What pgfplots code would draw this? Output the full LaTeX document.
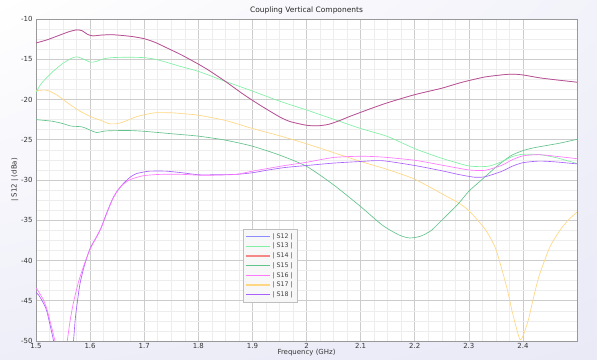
\documentclass[border=0pt]{standalone}
\usepackage{pgfplots}
\pgfplotsset{compat=1.18}
\usepackage{pgfplotstable}
\usetikzlibrary{shadings}
\usepackage{fontspec}
\setmainfont{DejaVu Sans}

\definecolor{lav}{RGB}{234,234,247}
\definecolor{cS12}{RGB}{140,140,255}
\definecolor{cS13}{RGB}{128,240,165}
\definecolor{cS14}{RGB}{245,135,135}
\definecolor{cS15}{RGB}{100,195,140}
\definecolor{cS16}{RGB}{255,120,255}
\definecolor{cS17}{RGB}{255,215,130}
\definecolor{cS18}{RGB}{170,95,255}
\definecolor{cTopR}{RGB}{210,75,115}
\definecolor{cTopB}{RGB}{110,90,235}

\pgfplotstableread{
f s
1.50 -12.98
1.52 -12.6
1.54 -12.1
1.56 -11.6
1.575 -11.35
1.585 -11.45
1.595 -11.9
1.605 -12.1
1.62 -12.0
1.64 -11.95
1.66 -12.05
1.68 -12.2
1.70 -12.45
1.72 -12.9
1.75 -13.85
1.77 -14.5
1.80 -15.6
1.82 -16.4
1.85 -17.75
1.88 -19.2
1.90 -20.1
1.92 -20.95
1.95 -22.15
1.97 -22.75
2.00 -23.2
2.02 -23.27
2.04 -23.1
2.06 -22.65
2.08 -22.1
2.10 -21.6
2.12 -21.1
2.15 -20.4
2.20 -19.4
2.25 -18.6
2.28 -18.0
2.30 -17.65
2.33 -17.2
2.36 -16.95
2.38 -16.85
2.40 -16.95
2.43 -17.3
2.46 -17.55
2.50 -17.85
}\tSfourteen

\pgfplotstableread{
f s
1.50 -19.1
1.51 -18.0
1.53 -16.6
1.55 -15.5
1.565 -14.9
1.575 -14.7
1.585 -14.9
1.60 -15.35
1.61 -15.3
1.625 -14.95
1.64 -14.8
1.67 -14.75
1.70 -14.8
1.72 -15.0
1.74 -15.35
1.77 -15.95
1.80 -16.5
1.85 -17.75
1.90 -18.95
1.95 -20.2
2.00 -21.3
2.05 -22.45
2.10 -23.6
2.15 -24.6
2.20 -26.1
2.25 -27.3
2.30 -28.25
2.335 -28.3
2.36 -27.75
2.38 -27.1
2.40 -26.8
2.43 -26.85
2.46 -27.2
2.50 -27.95
}\tSthirteen

\pgfplotstableread{
f s
1.50 -22.5
1.53 -22.7
1.55 -23.0
1.565 -23.3
1.585 -23.4
1.60 -23.8
1.612 -24.1
1.63 -23.9
1.67 -23.85
1.70 -23.95
1.75 -24.25
1.80 -24.55
1.85 -25.05
1.90 -25.8
1.95 -26.9
2.00 -28.3
2.05 -30.6
2.10 -33.3
2.14 -35.6
2.17 -36.8
2.19 -37.2
2.21 -37.0
2.23 -36.3
2.25 -35.0
2.28 -33.0
2.30 -31.4
2.32 -30.2
2.335 -29.3
2.35 -28.4
2.365 -27.6
2.38 -26.9
2.40 -26.35
2.42 -26.0
2.445 -25.7
2.47 -25.4
2.50 -24.95
}\tSfifteen

\pgfplotstableread{
f s
1.50 -43.4
1.505 -43.9
1.513 -44.8
1.52 -46.0
1.53 -48.6
1.537 -50.5
1.545 -52.5
1.552 -51.5
1.557 -50.3
1.563 -47.5
1.569 -45.3
1.578 -42.8
1.588 -40.7
1.60 -38.6
1.61 -37.3
1.62 -36.0
1.63 -34.3
1.64 -32.6
1.65 -31.4
1.66 -30.6
1.67 -30.1
1.68 -29.8
1.70 -29.45
1.73 -29.3
1.77 -29.3
1.80 -29.4
1.83 -29.4
1.87 -29.3
1.90 -28.9
1.93 -28.55
1.96 -28.2
2.00 -27.8
2.05 -27.2
2.10 -27.05
2.14 -27.15
2.20 -27.55
2.25 -28.15
2.30 -28.75
2.33 -28.8
2.36 -28.2
2.38 -27.5
2.40 -27.0
2.43 -26.85
2.46 -27.05
2.50 -27.35
}\tSsixteen

\pgfplotstableread{
f s
1.50 -18.9
1.52 -18.85
1.54 -19.5
1.56 -20.5
1.58 -21.4
1.60 -22.1
1.62 -22.6
1.635 -23.0
1.65 -23.0
1.665 -22.7
1.685 -22.15
1.70 -21.9
1.72 -21.65
1.75 -21.65
1.77 -21.75
1.80 -21.95
1.85 -22.6
1.90 -23.6
1.95 -24.5
2.00 -25.5
2.05 -26.6
2.10 -27.7
2.15 -28.7
2.20 -29.9
2.25 -31.7
2.28 -32.8
2.30 -33.8
2.33 -36.1
2.35 -38.6
2.37 -43.3
2.38 -46.3
2.39 -48.9
2.395 -49.85
2.40 -49.4
2.41 -47.4
2.42 -44.5
2.43 -41.9
2.45 -38.3
2.47 -36.1
2.485 -34.9
2.50 -34.0
}\tSseventeen

\pgfplotstableread{
f s
1.50 -44.0
1.505 -44.3
1.513 -45.2
1.52 -46.3
1.53 -49.2
1.535 -50.6
1.55 -53.0
1.565 -53.0
1.569 -50.3
1.573 -47.0
1.581 -43.0
1.59 -40.5
1.60 -38.5
1.61 -37.3
1.62 -36.0
1.63 -34.2
1.643 -32.15
1.652 -31.2
1.662 -30.4
1.675 -29.6
1.686 -29.2
1.70 -29.0
1.71 -28.9
1.74 -28.9
1.77 -29.1
1.80 -29.35
1.83 -29.35
1.87 -29.3
1.90 -29.1
1.93 -28.75
1.96 -28.45
2.00 -28.2
2.05 -27.9
2.10 -27.7
2.14 -27.6
2.20 -28.2
2.25 -28.85
2.28 -29.3
2.31 -29.65
2.33 -29.6
2.36 -28.95
2.38 -28.3
2.40 -27.85
2.43 -27.65
2.46 -27.75
2.50 -28.0
}\tSeighteen

\begin{document}
\begin{tikzpicture}
\shade[upper left=white, upper right=lav!60, lower left=lav!80, lower right=lav] (0,0) rectangle (597bp,360bp);
\useasboundingbox (0,0) rectangle (597bp,360bp);
\begin{axis}[
  at={(36bp,19bp)}, anchor=south west,
  width=541bp, height=322bp, scale only axis,
  xmin=1.5, xmax=2.5, ymin=-50, ymax=-10,
  xtick={1.5,1.6,...,2.41}, ytick={-50,-45,...,-10},
  xticklabels={1.5,1.6,1.7,1.8,1.9,2,2.1,2.2,2.3,2.4},
  minor x tick num=3, minor y tick num=3,
  grid=both,
  major grid style={draw=black!20, line width=0.6pt},
  minor grid style={draw=black!7, line width=0.5pt},
  major tick length=0pt, minor tick length=0pt,
  axis background/.style={fill=white},
  axis line style={draw=black!40, line width=0.7pt},
  /pgf/number format/assume math mode=true,
  ticklabel style={font=\fontsize{7}{8}\selectfont, text=black!80},
  yticklabel style={/pgf/number format/fixed},
  xticklabel style={yshift=1bp},
  title={Coupling Vertical Components},
  title style={font=\fontsize{7.5}{8}\selectfont, inner sep=1.5bp, yshift=-2.5bp, text=black!85},
  xlabel={Frequency (GHz)},
  xlabel style={font=\fontsize{7}{8}\selectfont, yshift=6bp, text=black!80},
  ylabel={| S12 | (dBa)},
  ylabel style={font=\fontsize{7}{8}\selectfont, yshift=-4bp, text=black!80},
  clip=true,
  legend style={at={(0.383,0.121)}, anchor=south west,
    fill=black!3, draw=black!25, font=\fontsize{6.3}{7}\selectfont,
    row sep=-0.6bp, inner sep=2bp, text=black!75},
  legend cell align=left,
  legend image code/.code={\draw[#1, line width=1.2pt] (0bp,0bp) -- (24bp,0bp);},
]
\addlegendimage{draw=cS12}\addlegendentry{| S12 |}
\addlegendimage{draw=cS13}\addlegendentry{| S13 |}
\addlegendimage{draw=cS14}\addlegendentry{| S14 |}
\addlegendimage{draw=cS15}\addlegendentry{| S15 |}
\addlegendimage{draw=cS16}\addlegendentry{| S16 |}
\addlegendimage{draw=cS17}\addlegendentry{| S17 |}
\addlegendimage{draw=cS18}\addlegendentry{| S18 |}

\addplot[forget plot, smooth, tension=0.4, draw=cS17, line width=0.65pt] table[x=f,y=s] {\tSseventeen};
\addplot[forget plot, smooth, tension=0.4, draw=cS15, line width=0.65pt] table[x=f,y=s] {\tSfifteen};
\addplot[forget plot, smooth, tension=0.4, draw=cS13, line width=0.65pt] table[x=f,y=s] {\tSthirteen};
\addplot[forget plot, smooth, tension=0.4, draw=cS18, line width=0.65pt] table[x=f,y=s] {\tSeighteen};
\addplot[forget plot, smooth, tension=0.4, draw=cS16, line width=0.65pt] table[x=f,y=s] {\tSsixteen};
\addplot[forget plot, smooth, tension=0.4, draw=cTopR, line width=0.75pt] table[x=f,y=s] {\tSfourteen};
\addplot[forget plot, smooth, tension=0.4, draw=cTopB, line width=0.5pt, opacity=0.4] table[x=f,y=s] {\tSfourteen};
\end{axis}
\end{tikzpicture}
\end{document}
